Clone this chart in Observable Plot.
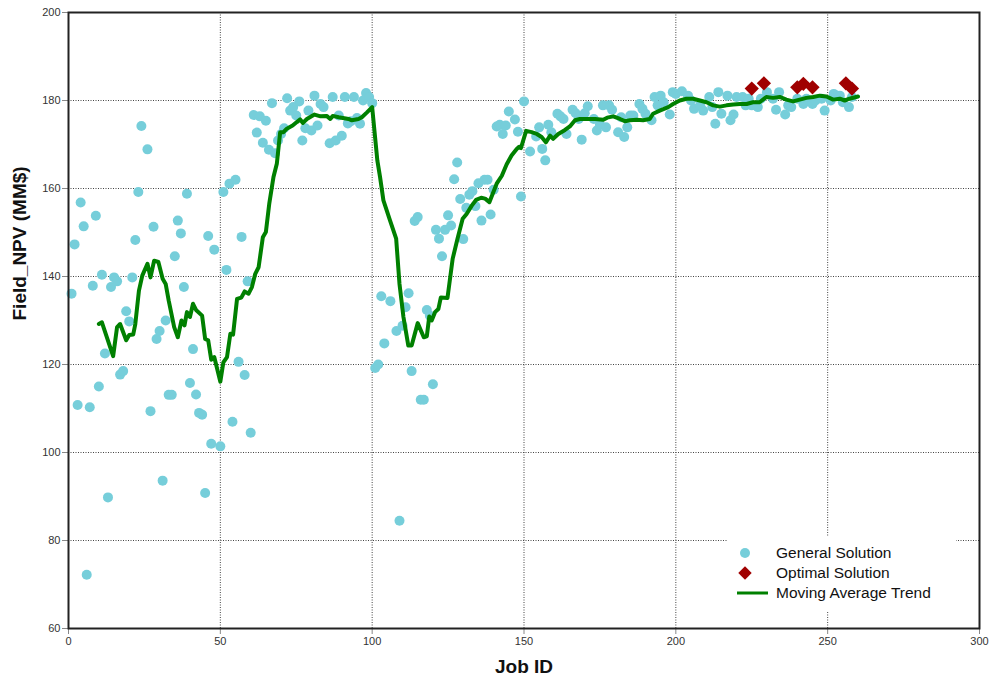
<!DOCTYPE html>
<html><head><meta charset="utf-8">
<script src="https://cdn.jsdelivr.net/npm/d3@7"></script>
<script src="https://cdn.jsdelivr.net/npm/@observablehq/plot@0.6"></script>
<style>
body{margin:0;background:#fff;}
#chart{width:990px;height:685px;}
</style></head><body><div id="chart"></div>
<script>
const generalJobs = [1,2,3,4,5,6,7,8,9,10,11,12,13,14,15,16,17,18,19,20,21,22,23,24,26,27,28,29,30,31,32,33,34,35,36,37,38,39,40,41,42,43,44,45,46,47,48,50,51,52,53,54,55,56,57,58,59,60,61,62,63,64,65,66,67,68,69,70,71,72,73,74,75,76,77,78,79,80,81,82,83,84,86,87,88,89,90,91,92,93,94,95,96,97,98,99,100,
101,102,103,104,106,108,109,110,111,112,113,114,115,116,117,118,119,120,121,122,123,124,125,126,127,128,129,130,131,132,133,134,135,136,137,138,139,140,141,142,143,144,145,147,148,149,150,
152,154,155,156,157,158,159,161,162,163,164,166,167,168,169,170,171,173,174,175,176,177,178,179,181,182,183,184,185,186,188,189,190,192,193,194,195,196,198,199,200,202,204,205,206,208,209,211,212,213,214,215,217,218,219,220,222,223,224,225,227,228,230,232,233,234,236,237,238,240,242,243,245,246,248,249,251,252,254,255,257,258];
const generalNPV = [136.1,147.3,110.8,156.8,151.4,72.2,110.3,137.9,153.8,115,140.4,122.5,89.8,137.6,139.8,138.9,117.7,118.5,132.1,129.8,139.8,148.3,159.2,174.2,168.9,109.4,151.3,125.8,127.6,93.6,130,113.1,113.1,144.6,152.7,149.8,137.6,158.8,115.8,123.5,113.2,109.0,108.6,90.8,149.2,102.0,146.1,101.4,159.2,141.5,161.1,107,162,120.6,149,117.6,138.9,104.5,176.7,172.7,176.4,170.4,175.4,168.8,179.4,168,170.9,172.4,173.7,180.5,177.7,178.5,176.6,179.8,170.9,173.7,177.7,173.2,181.1,174.3,179.2,178.5,170.3,180.8,170.9,176.6,172,180.8,174.8,175.3,180.8,176.0,174.7,180,181.7,180.8,179.4,
119.2,120,135.5,124.8,134.4,127.6,84.5,128.8,133.0,136.2,118.5,152.6,153.5,112,112,132.4,131.1,115.5,150.6,148.6,144.6,150.6,153.9,151.6,162.1,165.9,157.6,148.5,155.6,158.6,159.4,156,161.2,152.7,162,162,154.1,159.7,174.1,174.5,172.4,174.3,177.5,175.7,172.9,158.2,179.8,
168.4,171.8,173.9,169,166.4,174.5,172.8,177,176.4,175.8,172.4,177.9,177.1,175.8,171.1,177.1,178.7,175.8,173.2,174.5,178.9,173.9,178.9,177.9,172.8,176.2,171.7,173.9,176.6,176.6,179.2,178.1,177,175.5,180.8,178.9,181.1,179.6,176.8,181.9,181.5,182.1,181.1,180,178.1,178.9,177.7,180.8,178.5,174.7,181.9,177,181.1,175.5,176.8,180.8,180.8,178.9,180.4,178.9,178.5,180.4,181.9,180.4,177.9,181.9,176.8,178.9,178.5,180.4,179.2,180.4,179.2,180,180.4,177.7,180,181.5,181.1,179.6,178.5,180.8];
const optimalJobs = [225,229,240,242,245,256,258];
const optimalNPV = [182.7,183.9,183,183.8,183,183.9,182.7];
const trendJobs = [10,11,14.7,16,17,19,20,21.3,22,23.2,24.3,26,27,28.2,29.6,31,32,33,34.8,36,37.2,38.2,39,40,41,42,44,45,46,47,48,50,51,52.2,53.3,54.2,55.5,56.9,58,59.3,60.4,61.5,62.6,64,65,66.1,67.5,68.6,69.7,70.8,71.9,73.8,75.2,76.3,77.2,78.5,81,83,85,86.2,87,89,92.2,93.3,95.5,96.6,98.3,100,101.7,102.6,103.7,105.9,107.9,109,110.3,111.9,113,115,117,118,118.8,119.6,120.7,121.8,122.6,124.8,126.5,128.1,129.8,131.1,132.8,134.2,135.9,137.2,138.6,139.7,141,142.7,144.3,145.9,147.6,148.4,149,150.7,152.5,154.2,155.8,157.2,158.6,159.6,161.3,163.5,165.1,166.8,168.4,170.6,173.4,176.1,177.4,179.4,181.6,183.2,184.9,187.1,189.2,191.4,192.5,194.7,197.5,199.1,201.3,203.5,205.7,207.9,210.1,212.3,214.5,216.7,218.9,221.1,223.3,225.4,227.6,229.8,232,234.2,236.4,238.6,240.8,243,245.2,247.4,249.6,251.8,254,255.6,257.2,260];
const trendNPV = [129.2,129.6,121.9,128.5,129.2,125.5,126.7,126.8,129.2,136.8,140.2,142.9,139.8,143.6,143.3,139.5,138.3,134.5,128.5,126.2,130,128.9,131.9,130.8,133.8,132.4,131.1,125.8,125.5,121.1,121.7,116.1,120.5,121.7,127,126.8,134.9,135.2,136.6,136.1,137.6,140.6,142.1,148.9,150.1,156.5,162.6,165.6,172.8,172.8,173.6,174.3,175.1,175.7,174.9,175.8,176.8,176.4,176.5,175.8,176.5,176.2,175.8,175.5,175.8,176.2,177.3,178.5,166.4,162.6,157.3,152.7,148.6,138.3,130.8,124.3,124.3,129.4,126.2,126.4,130.9,130,131.9,132.6,135.2,135.1,144,148.6,153.1,154.2,156.1,157.4,157.9,157.7,156.9,158.8,161.1,162.9,165.5,167.5,169,169.5,169.2,173.1,172.8,172.4,171.7,170.5,172,171.3,172.4,173.3,174.1,175.5,175.8,175.8,175.8,175.6,176.1,176.4,175.8,175.3,175.5,175.6,175.5,175.8,177,177.7,178.5,179.2,180,180.4,180.4,180,179.6,178.9,178.6,178.9,179.1,179.2,179.2,179.6,179.6,180.8,180.6,180.8,180.2,179.8,180.2,180.6,180.8,181.1,180.9,180.2,180.4,180,180.4,180.9];
const xTicks = [0,50,100,150,200,250,300];
const yTicks = [60,80,100,120,140,160,180,200];
const xLabel = "Job ID";
const yLabel = "Field_NPV (MM$)";
const legendLabels = ["General Solution","Optimal Solution","Moving Average Trend"];
const colGeneral = "#76CEDA", colOptimal = "#A00000", colTrend = "#008000";

const general = generalJobs.map((j,i)=>({job:j, npv:generalNPV[i]}));
const optimal = optimalJobs.map((j,i)=>({job:j, npv:optimalNPV[i]}));
const trend = trendJobs.map((j,i)=>({job:j, npv:trendNPV[i]}));

const font = "'Liberation Sans', Arial, sans-serif";
const chart = Plot.plot({
  width: 990, height: 685,
  marginLeft: 68, marginRight: 11, marginTop: 12, marginBottom: 57,
  style: {fontFamily: font, background: "#fff"},
  x: {domain: [0,300]},
  y: {domain: [60,200]},
  marks: [
    Plot.gridY(yTicks, {stroke: "#444", strokeOpacity: 1, strokeDasharray: "1,1.5", strokeWidth: 1}),
    Plot.gridX(xTicks, {stroke: "#444", strokeOpacity: 1, strokeDasharray: "1,1.5", strokeWidth: 1}),
    Plot.axisY(yTicks, {tickSize: 6, tickPadding: 2, fontSize: 11, label: null, stroke: "#888", fill: "#333", tickFormat: d => String(d)}),
    Plot.axisX(xTicks, {tickSize: 6, tickPadding: 3, fontSize: 11, label: null, stroke: "#888", fill: "#333", tickFormat: d => String(d)}),
    Plot.dot(general, {x: "job", y: "npv", r: 5, fill: colGeneral}),
    Plot.line(trend, {x: "job", y: "npv", stroke: colTrend, strokeWidth: 4, strokeLinejoin: "round"}),
    Plot.dot(optimal, {x: "job", y: "npv", symbol: "square", r: 5.7, rotate: 45, fill: colOptimal}),
    Plot.frame({stroke: "#222", strokeWidth: 2}),
    Plot.text([yLabel], {text: d => d, frameAnchor: "left", dx: -49, rotate: -90, fontSize: 19, fontWeight: "bold", fill: "#111"}),
    Plot.text([xLabel], {text: d => d, frameAnchor: "bottom", dy: 44, fontSize: 19, fontWeight: "bold", fill: "#111"})
  ]
});
document.getElementById("chart").appendChild(chart);

// legend inside the plot area (bottom-right)
const svg = d3.select(chart);
const lg = svg.append("g").attr("font-family", font).attr("text-anchor", "start");
lg.append("rect").attr("x", 728).attr("y", 537).attr("width", 228).attr("height", 74).attr("fill", "#fff");
const rowY = [553, 573, 593];
lg.append("circle").attr("cx", 745).attr("cy", rowY[0]).attr("r", 5).attr("fill", colGeneral);
lg.append("path").attr("d", d3.symbol(d3.symbolSquare, 90)()).attr("transform", `translate(745,${rowY[1]}) rotate(45)`).attr("fill", colOptimal);
lg.append("line").attr("x1", 737).attr("x2", 768).attr("y1", rowY[2]).attr("y2", rowY[2]).attr("stroke", colTrend).attr("stroke-width", 3);
legendLabels.forEach((t,i) => {
  lg.append("text").attr("x", 776).attr("y", rowY[i]).attr("dy", "0.35em").attr("font-size", 15.5).attr("fill", "#111").attr("text-anchor", "start").text(t);
});
</script></body></html>
